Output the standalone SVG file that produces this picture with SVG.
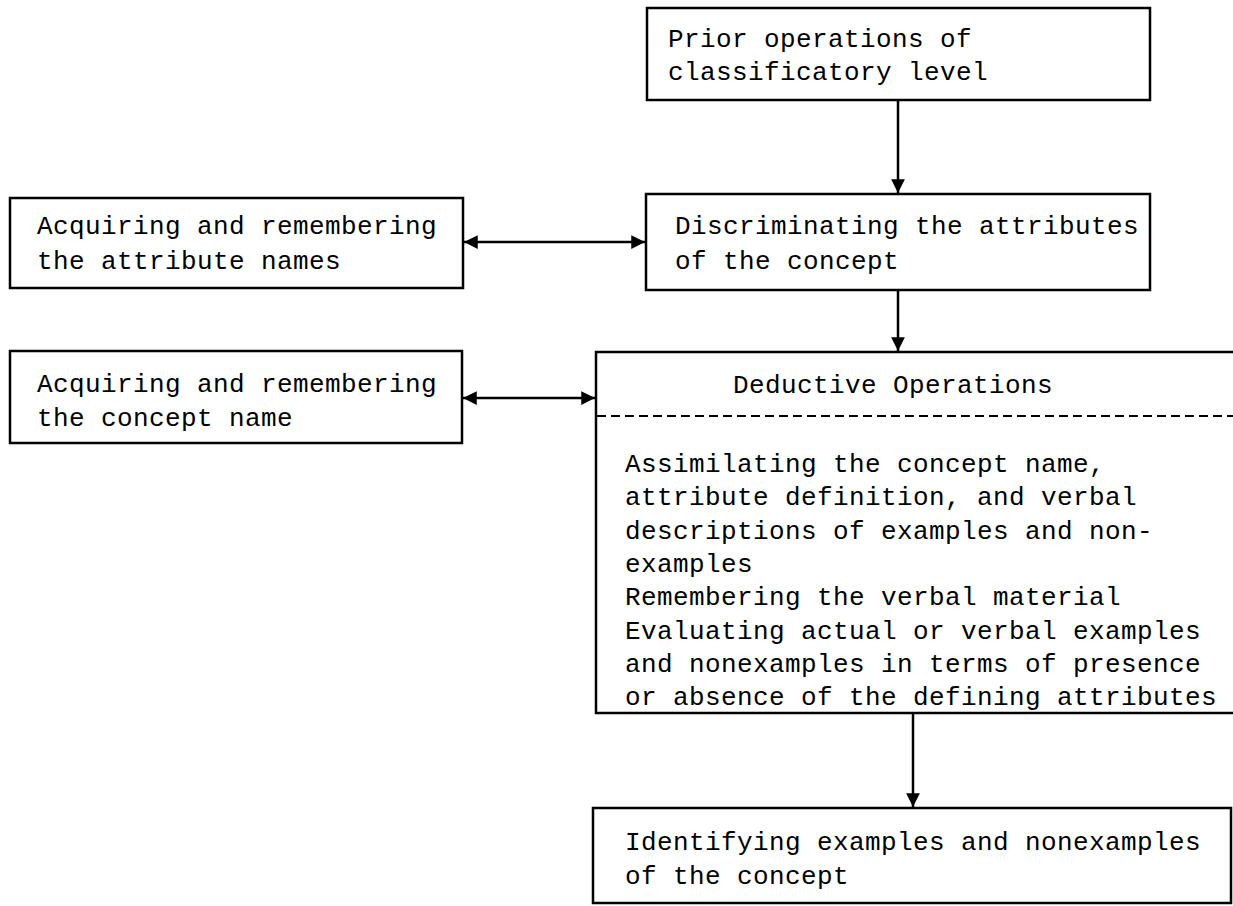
<svg xmlns="http://www.w3.org/2000/svg" width="1233" height="906" viewBox="0 0 1233 906">
<style>
.box{fill:#fff;stroke:#000;stroke-width:2.5}
.t{font-family:"Liberation Mono","DejaVu Sans Mono",monospace;font-size:26px;letter-spacing:0.4px;fill:#000}
.c{stroke:#000;stroke-width:2.5;fill:none}
.d{stroke:#000;stroke-width:2;stroke-dasharray:9 5;fill:none}
</style>
<defs>
<marker id="ah" viewBox="0 0 10 10" refX="10" refY="5" markerWidth="6" markerHeight="5.5" markerUnits="strokeWidth" orient="auto-start-reverse">
<path d="M0,0 L10,5 L0,10 z" fill="#000"/>
</marker>
</defs>
<rect width="1233" height="906" fill="#fff"/>
<g id="prior">
<rect class="box" x="647" y="8" width="503" height="92"/>
<text class="t" x="668" y="47">Prior operations of</text>
<text class="t" x="668" y="80">classificatory level</text>
</g>
<g id="discriminating">
<rect class="box" x="646" y="194" width="504" height="96"/>
<text class="t" x="675" y="234">Discriminating the attributes</text>
<text class="t" x="675" y="269">of the concept</text>
</g>
<g id="attr-names">
<rect class="box" x="10" y="198" width="453" height="90"/>
<text class="t" x="37" y="234">Acquiring and remembering</text>
<text class="t" x="37" y="269">the attribute names</text>
</g>
<g id="concept-name">
<rect class="box" x="10" y="351" width="452" height="92"/>
<text class="t" x="37" y="392">Acquiring and remembering</text>
<text class="t" x="37" y="426">the concept name</text>
</g>
<g id="deductive">
<rect class="box" x="596" y="352" width="660" height="361"/>
<text class="t" x="733" y="393">Deductive Operations</text>
<line class="d" x1="597" y1="416" x2="1233" y2="416"/>
<text class="t" x="625" y="472">Assimilating the concept name,</text>
<text class="t" x="625" y="505">attribute definition, and verbal</text>
<text class="t" x="625" y="539">descriptions of examples and non-</text>
<text class="t" x="625" y="572">examples</text>
<text class="t" x="625" y="605">Remembering the verbal material</text>
<text class="t" x="625" y="639">Evaluating actual or verbal examples</text>
<text class="t" x="625" y="672">and nonexamples in terms of presence</text>
<text class="t" x="625" y="705">or absence of the defining attributes</text>
</g>
<g id="identifying">
<rect class="box" x="593" y="808" width="638" height="95"/>
<text class="t" x="625" y="850">Identifying examples and nonexamples</text>
<text class="t" x="625" y="884">of the concept</text>
</g>
<g id="connectors">
<line class="c" x1="898" y1="100" x2="898" y2="193" marker-end="url(#ah)"/>
<line class="c" x1="898" y1="290" x2="898" y2="351" marker-end="url(#ah)"/>
<line class="c" x1="913" y1="713" x2="913" y2="807" marker-end="url(#ah)"/>
<line class="c" x1="464" y1="242" x2="645" y2="242" marker-start="url(#ah)" marker-end="url(#ah)"/>
<line class="c" x1="463" y1="398" x2="595" y2="398" marker-start="url(#ah)" marker-end="url(#ah)"/>
</g>
</svg>
